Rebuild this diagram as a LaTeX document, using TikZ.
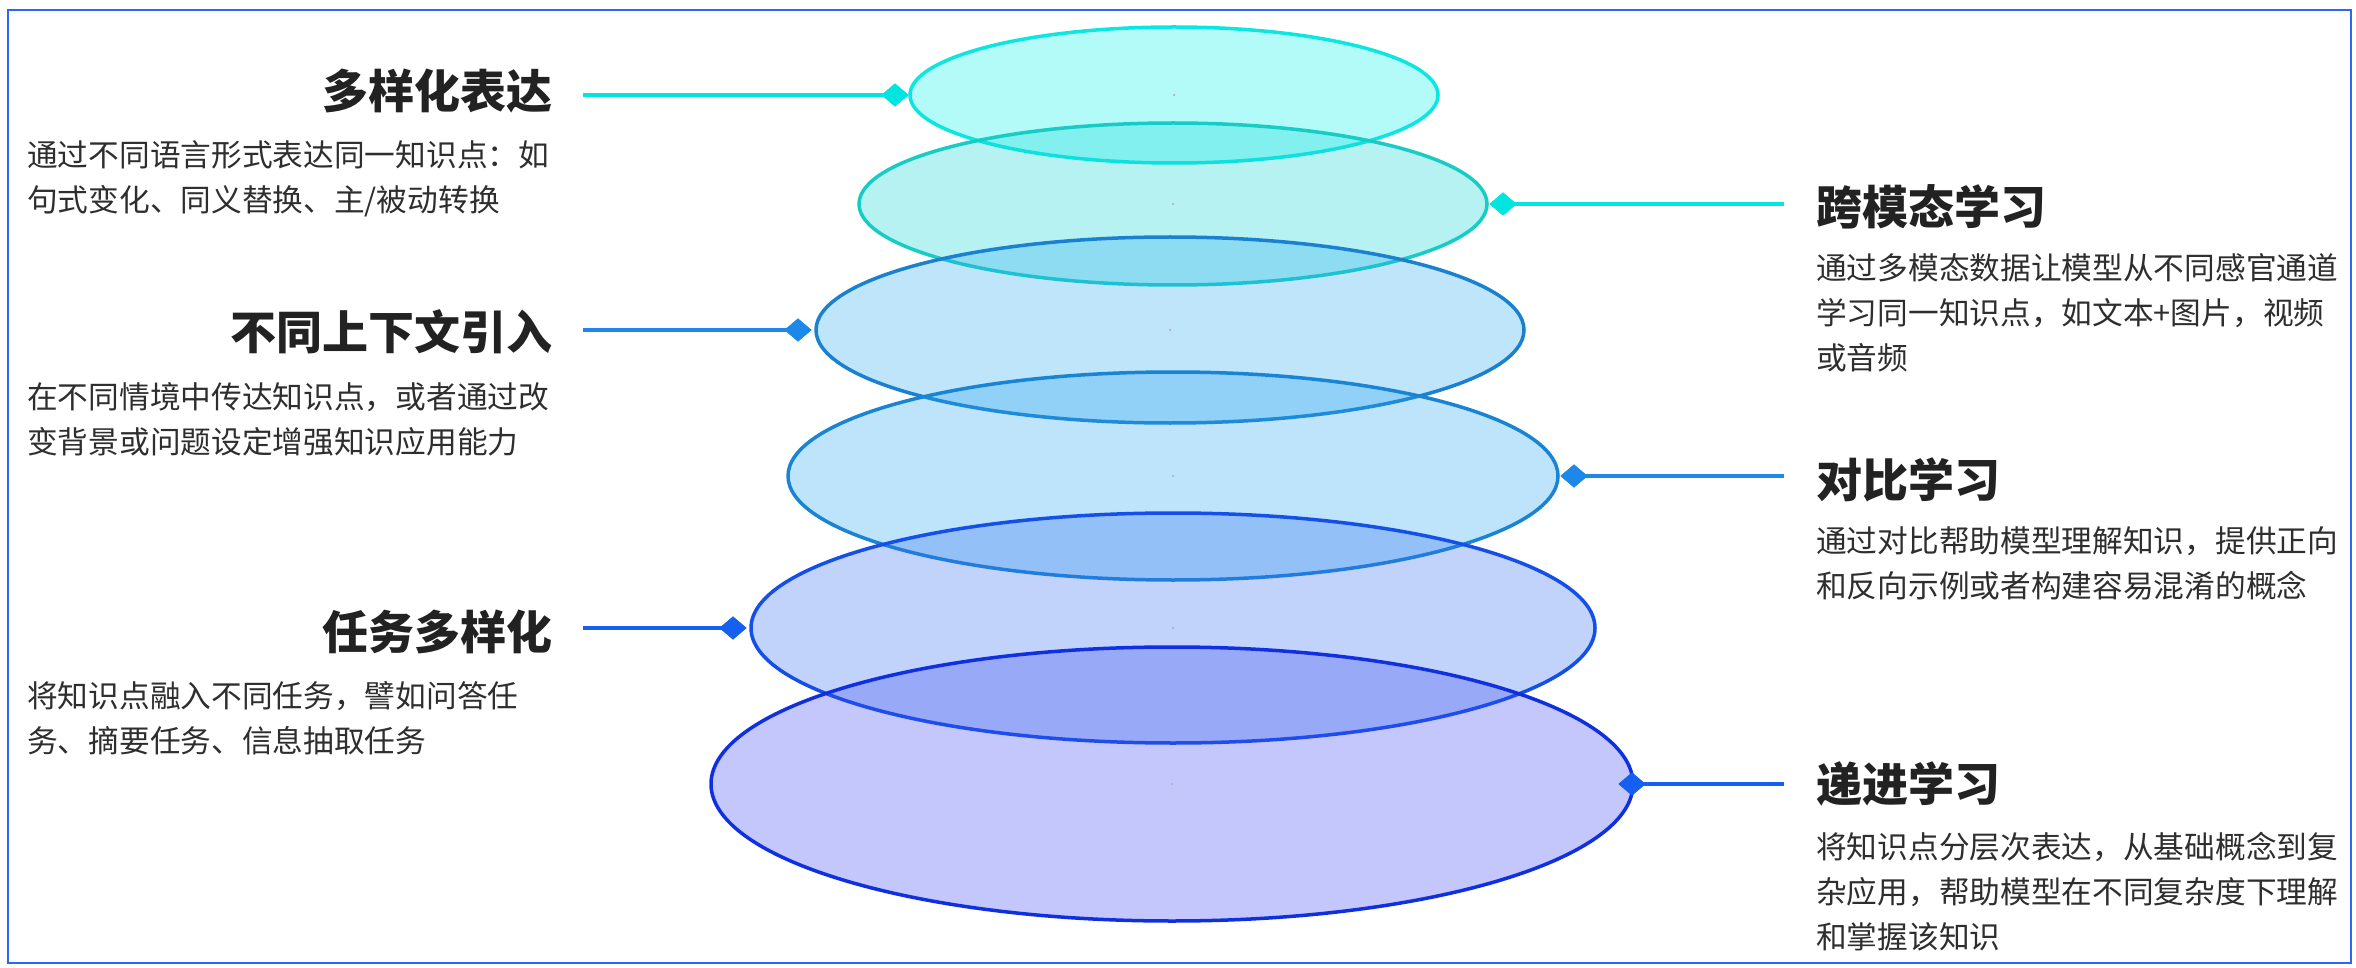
\documentclass[tikz,border=0pt]{standalone}
\usepackage{fontspec}
\usetikzlibrary{shapes.geometric}
\newfontfamily\cjk{Noto Sans CJK SC}
\definecolor{framec}{HTML}{2F66F5}
\definecolor{s1}{HTML}{0CE6E0}
\definecolor{s2}{HTML}{16CCC4}
\definecolor{s3}{HTML}{1A80D0}
\definecolor{s4}{HTML}{1A84D4}
\definecolor{s5}{HTML}{1450E8}
\definecolor{s6}{HTML}{1030E0}
\definecolor{f1}{HTML}{02F2E8}
\definecolor{f2}{HTML}{12D7D7}
\definecolor{f3}{HTML}{2DACF2}
\definecolor{f4}{HTML}{28A6F2}
\definecolor{f5}{HTML}{3470F2}
\definecolor{f6}{HTML}{3A48F2}
\definecolor{lc1}{HTML}{00E5E0}
\definecolor{lc2}{HTML}{1E88E8}
\definecolor{lc3}{HTML}{1560F0}
\definecolor{titlegray}{HTML}{222222}
\definecolor{descgray}{HTML}{2E2E2E}
\tikzset{
  layer/.style={ellipse, inner sep=0pt, outer sep=0pt, line width=3.5pt, fill opacity=0.3},
  tip/.style={diamond, aspect=1.2, inner sep=0pt, outer sep=0pt, minimum width=27pt, minimum height=23pt},
  link/.style={line width=4pt},
  ttl/.style={font=\cjk\bfseries\fontsize{46}{52}\selectfont, text=titlegray, inner sep=0pt},
  desc/.style={font=\cjk\fontsize{30.7}{45}\selectfont, text=descgray, inner sep=0pt, align=left, anchor=north west},
  cdot/.style={circle, fill=gray!60, inner sep=0pt, minimum size=2.5pt},
  frame/.style={draw=framec, line width=2.5pt}
}
\begin{document}
\begin{tikzpicture}[x=1pt,y=-1pt]
\useasboundingbox (0,0) rectangle (2356,968);
\fill[white] (0,0) rectangle (2356,968);
\draw[frame] (8,10) rectangle (2351,963);

% layers
\node[layer, draw=s1, fill=f1, minimum width=528pt, minimum height=136pt] (e1) at (1174,95) {};
\node[layer, draw=s2, fill=f2, minimum width=628pt, minimum height=162pt] (e2) at (1173,204) {};
\node[layer, draw=s3, fill=f3, minimum width=708pt, minimum height=186pt] (e3) at (1170,330) {};
\node[layer, draw=s4, fill=f4, minimum width=770pt, minimum height=208pt] (e4) at (1173,476) {};
\node[layer, draw=s5, fill=f5, minimum width=844pt, minimum height=230pt] (e5) at (1173,628) {};
\node[layer, draw=s6, fill=f6, minimum width=922pt, minimum height=274pt] (e6) at (1172,784) {};

\foreach \e in {e1,e2,e3,e4,e5,e6} \node[cdot] (\e c) at (\e.center) {};

% diamonds
\node[tip, fill=lc1] (t1) at ([xshift=-15pt]e1.west) {};
\node[tip, fill=lc1] (t2) at ([xshift=16pt]e2.east) {};
\node[tip, fill=lc2] (t3) at ([xshift=-18pt]e3.west) {};
\node[tip, fill=lc2] (t4) at ([xshift=16pt]e4.east) {};
\node[tip, fill=lc3] (t5) at ([xshift=-18pt]e5.west) {};
\node[tip, fill=lc3] (t6) at ([xshift=-1pt]e6.east) {};

% free ends of connectors
\coordinate (lx) at (583,0);
\coordinate (rx) at (1784,0);

\draw[link, lc1] (t1.center -| lx) -- (t1.center);
\draw[link, lc1] (t2.center) -- (t2.center -| rx);
\draw[link, lc2] (t3.center -| lx) -- (t3.center);
\draw[link, lc2] (t4.center) -- (t4.center -| rx);
\draw[link, lc3] (t5.center -| lx) -- (t5.center);
\draw[link, lc3] (t6.center) -- (t6.center -| rx);

% redraw diamonds on top of lines
\node[tip, fill=lc1] at (t1) {};
\node[tip, fill=lc1] at (t2) {};
\node[tip, fill=lc2] at (t3) {};
\node[tip, fill=lc2] at (t4) {};
\node[tip, fill=lc3] at (t5) {};
\node[tip, fill=lc3] at (t6) {};

% left texts
\node[ttl, anchor=east] (h1) at (553,91) {多样化表达};
\node[desc] (d1) at (27,140) {通过不同语言形式表达同一知识点：如\\句式变化、同义替换、主/被动转换};
\node[ttl, anchor=east] (h3) at (553,332) {不同上下文引入};
\node[desc] (d3) at (27,382) {在不同情境中传达知识点，或者通过改\\变背景或问题设定增强知识应用能力};
\node[ttl, anchor=east] (h5) at (553,632) {任务多样化};
\node[desc] (d5) at (27,681) {将知识点融入不同任务，譬如问答任\\务、摘要任务、信息抽取任务};

% right texts
\node[ttl, anchor=west] (h2) at (1816,207) {跨模态学习};
\node[desc] (d2) at (1816,253) {通过多模态数据让模型从不同感官通道\\学习同一知识点，如文本+图片，视频\\或音频};
\node[ttl, anchor=west] (h4) at (1816,480) {对比学习};
\node[desc] (d4) at (1816,526) {通过对比帮助模型理解知识，提供正向\\和反向示例或者构建容易混淆的概念};
\node[ttl, anchor=west] (h6) at (1816,784) {递进学习};
\node[desc] (d6) at (1816,832) {将知识点分层次表达，从基础概念到复\\杂应用，帮助模型在不同复杂度下理解\\和掌握该知识};
\end{tikzpicture}
\end{document}
